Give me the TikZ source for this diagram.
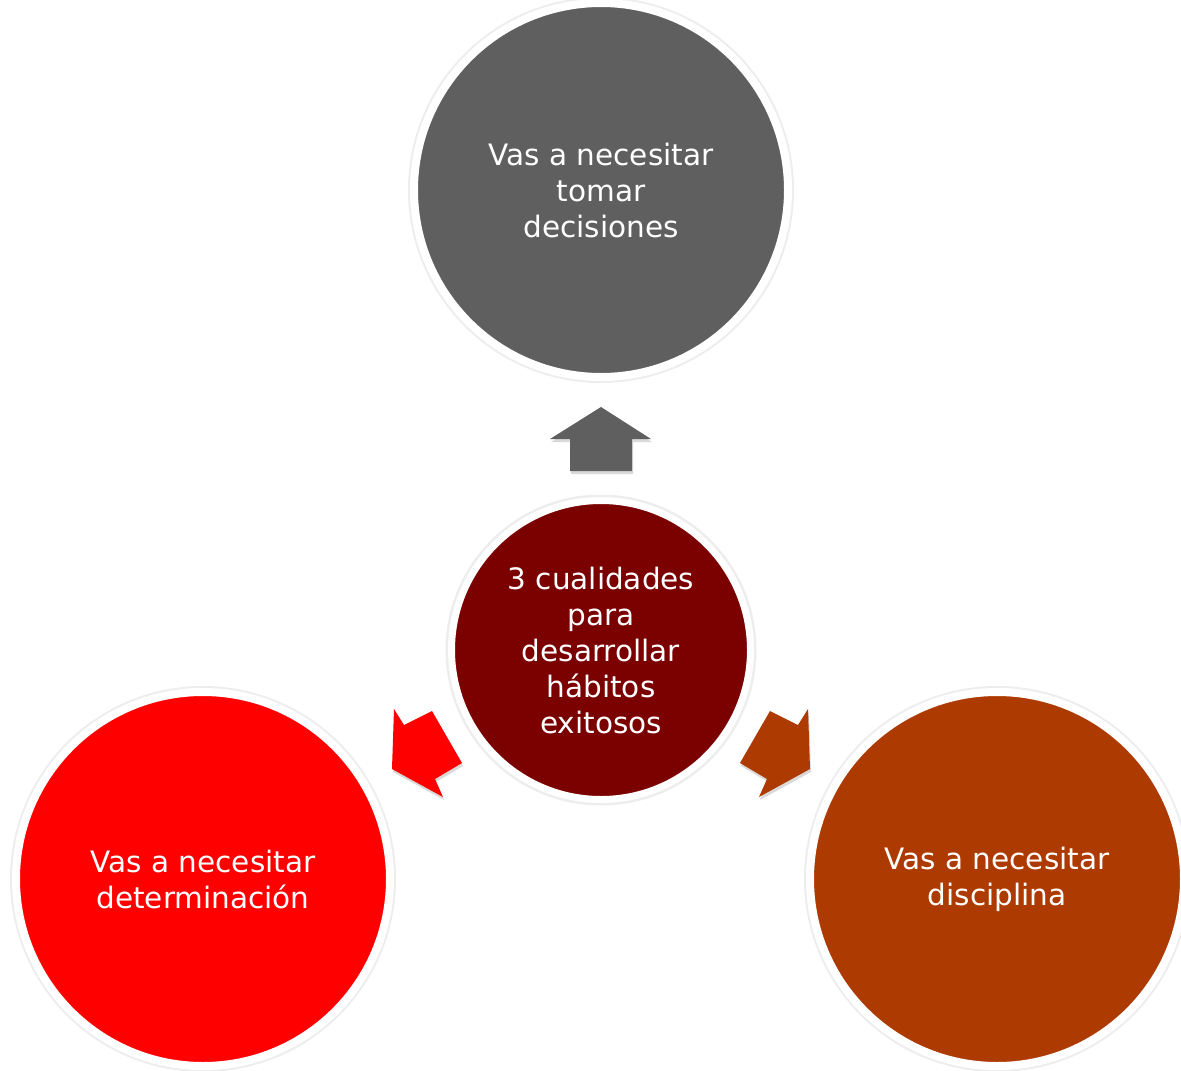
\documentclass[tikz,border=0pt]{standalone}
\usepackage{fontspec}
\setmainfont{DejaVu Sans}
\definecolor{cgray}{RGB}{95,95,95}
\definecolor{cdark}{RGB}{123,0,0}
\definecolor{cred}{RGB}{255,0,0}
\definecolor{crust}{RGB}{173,58,0}
\tikzset{
  bigcirc/.style={circle, inner sep=0pt, minimum size=374pt, draw=white, line width=8pt,
    text=white, align=center, font=\fontsize{29.5}{36}\selectfont},
  midcirc/.style={circle, inner sep=0pt, minimum size=299pt, draw=white, line width=7pt,
    text=white, align=center, font=\fontsize{29.5}{36}\selectfont},
  halo/.style={fill=black!7},
  ashadow/.style={fill=black, opacity=0.15},
}
\begin{document}
\begin{tikzpicture}[x=1pt,y=-1pt]
\useasboundingbox (0,0) rectangle (1181,1071);
\clip (0,0) rectangle (1181,1071);
% halos
\fill[halo] (601,190) circle (193);
\fill[halo] (203,879) circle (193);
\fill[halo] (997,879) circle (193);
\fill[halo] (601,650) circle (155.5);
% circles
\node[bigcirc, fill=cgray] (top) at (601,190) {Vas a necesitar\\tomar\\decisiones};
\node[bigcirc, fill=cred] (left) at (203,879) {Vas a necesitar\\determinación};
\node[bigcirc, fill=crust] (right) at (997,879) {Vas a necesitar\\disciplina};
\node[midcirc, fill=cdark] (mid) at (601,650) {3 cualidades\\para\\desarrollar\\hábitos\\exitosos};
% arrow shadows
\fill[ashadow, shift={(1,3)}] (601,407) -- (651,439) -- (632,439) -- (632,471) -- (570,471) -- (570,439) -- (550,439) -- cycle;
\fill[ashadow, shift={(1,3)}] (392,769) -- (394,709) -- (404,725) -- (432,711) -- (462,763) -- (435,779) -- (443,797) -- cycle;
\fill[ashadow, shift={(1,3)}] (810,769) -- (808,709) -- (798,725) -- (770,711) -- (740,763) -- (767,779) -- (759,797) -- cycle;
% arrows
\fill[cgray] (601,407) -- (651,439) -- (632,439) -- (632,471) -- (570,471) -- (570,439) -- (550,439) -- cycle;
\fill[cred] (392,769) -- (394,709) -- (404,725) -- (432,711) -- (462,763) -- (435,779) -- (443,797) -- cycle;
\fill[crust] (810,769) -- (808,709) -- (798,725) -- (770,711) -- (740,763) -- (767,779) -- (759,797) -- cycle;
\end{tikzpicture}
\end{document}
